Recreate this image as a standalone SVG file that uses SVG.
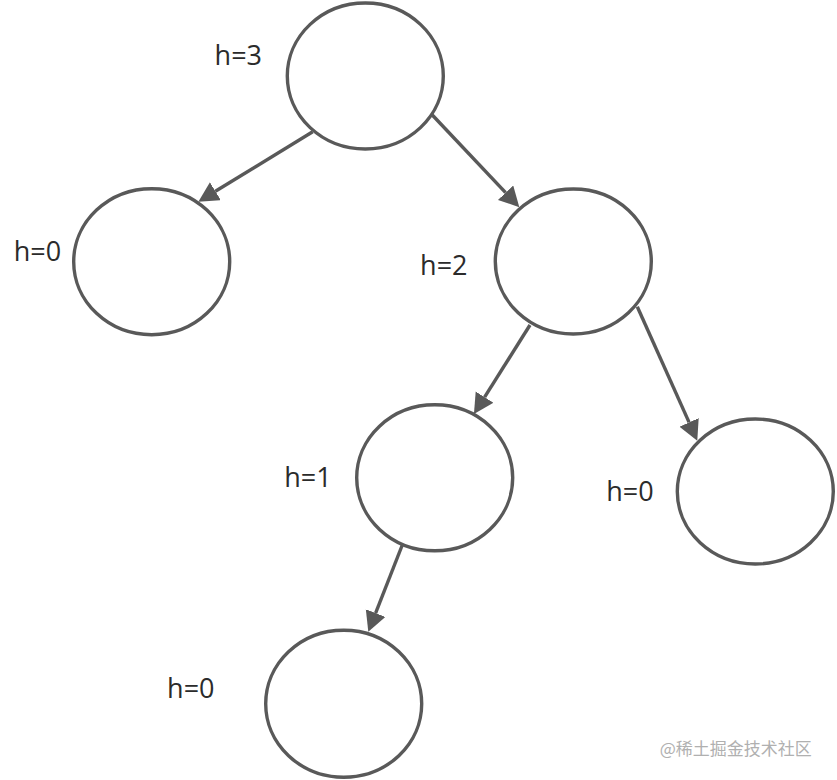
<svg xmlns="http://www.w3.org/2000/svg" width="837" height="780" viewBox="0 0 837 780">
<style>
.node{fill:#ffffff;stroke:#595959;stroke-width:3.4}
.edge{fill:none;stroke:#595959;stroke-width:3.4}
.lbl{font-family:"Open Sans","Noto Sans",sans-serif;font-size:27px;fill:#2b2b2b;text-anchor:middle}
.wm{font-family:"Noto Sans CJK SC","Noto Sans",sans-serif;font-size:17px;fill:#b0b0b0;text-anchor:middle}
</style>
<defs>
<marker id="arr" markerUnits="userSpaceOnUse" markerWidth="22" markerHeight="22" refX="0" refY="10.5" orient="auto" viewBox="0 0 22 22">
<path d="M0,0 L20,10.5 L0,21 Z" fill="#595959"/>
</marker>
</defs>
<rect width="837" height="780" fill="#ffffff"/>
<g id="connectors">
<line class="edge" x1="312.7" y1="131.7" x2="215.4" y2="191.3" marker-end="url(#arr)"/>
<line class="edge" x1="432.3" y1="115" x2="505.6" y2="192.7" marker-end="url(#arr)"/>
<line class="edge" x1="530" y1="325" x2="484.6" y2="397.1" marker-end="url(#arr)"/>
<line class="edge" x1="637.3" y1="306.7" x2="689.1" y2="422.4" marker-end="url(#arr)"/>
<line class="edge" x1="402.3" y1="545" x2="375.6" y2="613.1" marker-end="url(#arr)"/>
</g>
<g id="n_root">
<ellipse class="node" cx="365.3" cy="76" rx="78" ry="73"/>
<text class="lbl" x="238.3" y="65">h=3</text>
</g>
<g id="n_left">
<ellipse class="node" cx="151.7" cy="261.7" rx="78" ry="73"/>
<text class="lbl" x="37.5" y="261">h=0</text>
</g>
<g id="n_right">
<ellipse class="node" cx="573.3" cy="261.5" rx="78" ry="72.5"/>
<text class="lbl" x="443.8" y="275">h=2</text>
</g>
<g id="n_mid">
<ellipse class="node" cx="434.7" cy="477.8" rx="78" ry="73"/>
<text class="lbl" x="308" y="486.7">h=1</text>
</g>
<g id="n_rightbottom">
<ellipse class="node" cx="755.3" cy="491.5" rx="78" ry="72.5"/>
<text class="lbl" x="630" y="501">h=0</text>
</g>
<g id="n_bottom">
<ellipse class="node" cx="343.7" cy="703.7" rx="78" ry="73.5"/>
<text class="lbl" x="190.8" y="698">h=0</text>
</g>
<text class="wm" x="735.8" y="755">@稀土掘金技术社区</text>
</svg>
